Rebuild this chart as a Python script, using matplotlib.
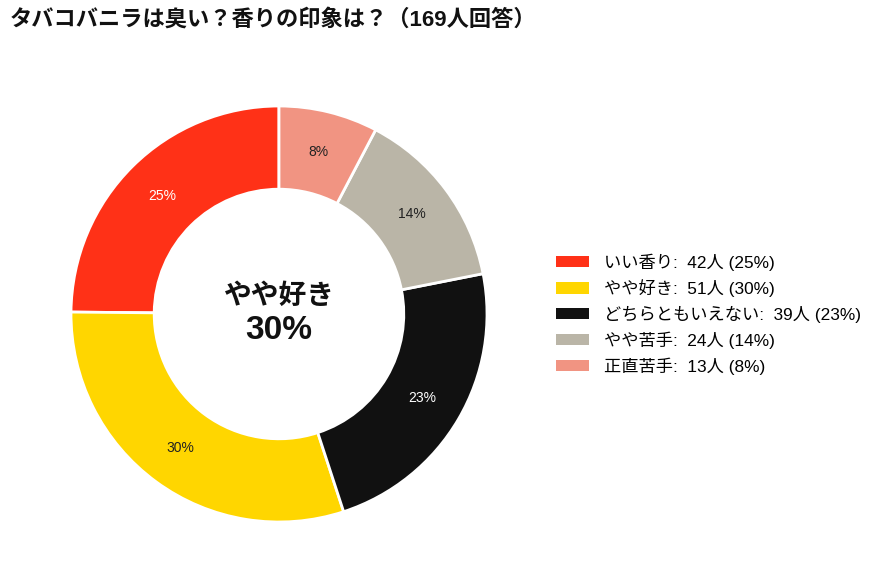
import matplotlib
matplotlib.use("Agg")
import matplotlib.pyplot as plt
from matplotlib.patches import Patch

plt.rcParams['font.family'] = ['Liberation Sans', 'Noto Sans CJK JP', 'DejaVu Sans']

title = "タバコバニラは臭い？香りの印象は？（169人回答）"
labels = ["いい香り", "やや好き", "どちらともいえない", "やや苦手", "正直苦手"]
counts = [42, 51, 39, 24, 13]
colors = ["#FF3117", "#FFD600", "#111111", "#BAB5A7", "#F19482"]
pct_colors = ["white", "#222222", "white", "#222222", "#222222"]

total = sum(counts)
pcts = [round(c / total * 100) for c in counts]

fig = plt.figure(figsize=(8.77, 5.86), dpi=100)
cx, cy, r = 279, 314, 208
ax = fig.add_axes([(cx - r) / 877, (586 - cy - r) / 586, 2 * r / 877, 2 * r / 586])

wedges, texts, autotexts = ax.pie(
    counts, colors=colors, startangle=90, counterclock=True, radius=1,
    autopct=lambda p: f"{p:.0f}%", pctdistance=0.8,
    wedgeprops=dict(width=0.4, edgecolor="white", linewidth=2),
    textprops=dict(fontsize=10))
for t, c in zip(autotexts, pct_colors):
    t.set_color(c)
ax.set_xlim(-1, 1)
ax.set_ylim(-1, 1)
ax.set_aspect("equal")
ax.axis("off")

# center annotation: biggest group
top = counts.index(max(counts))
ax.text(0, 0.08, labels[top], ha="center", va="center",
        fontsize=20, fontweight="bold", color="#111111")
ax.text(0, -0.08, f"{pcts[top]}%", ha="center", va="center",
        fontsize=24, fontweight="bold", color="#111111")

fig.text(10 / 877, 1 - 20 / 586, title, ha="left", va="center",
         fontsize=16, fontweight="bold", color="#111111")

handles = [Patch(facecolor=c) for c in colors]
leg_labels = [f"{l}:  {n}人 ({p}%)" for l, n, p in zip(labels, counts, pcts)]
fig.legend(handles, leg_labels, loc="center left",
           bbox_to_anchor=(540 / 877, 1 - 314 / 586), frameon=False,
           fontsize=12.4, handlelength=1.95, handleheight=0.63,
           handletextpad=0.85, labelspacing=0.5)

fig.savefig("out.png", dpi=100, facecolor="white")
